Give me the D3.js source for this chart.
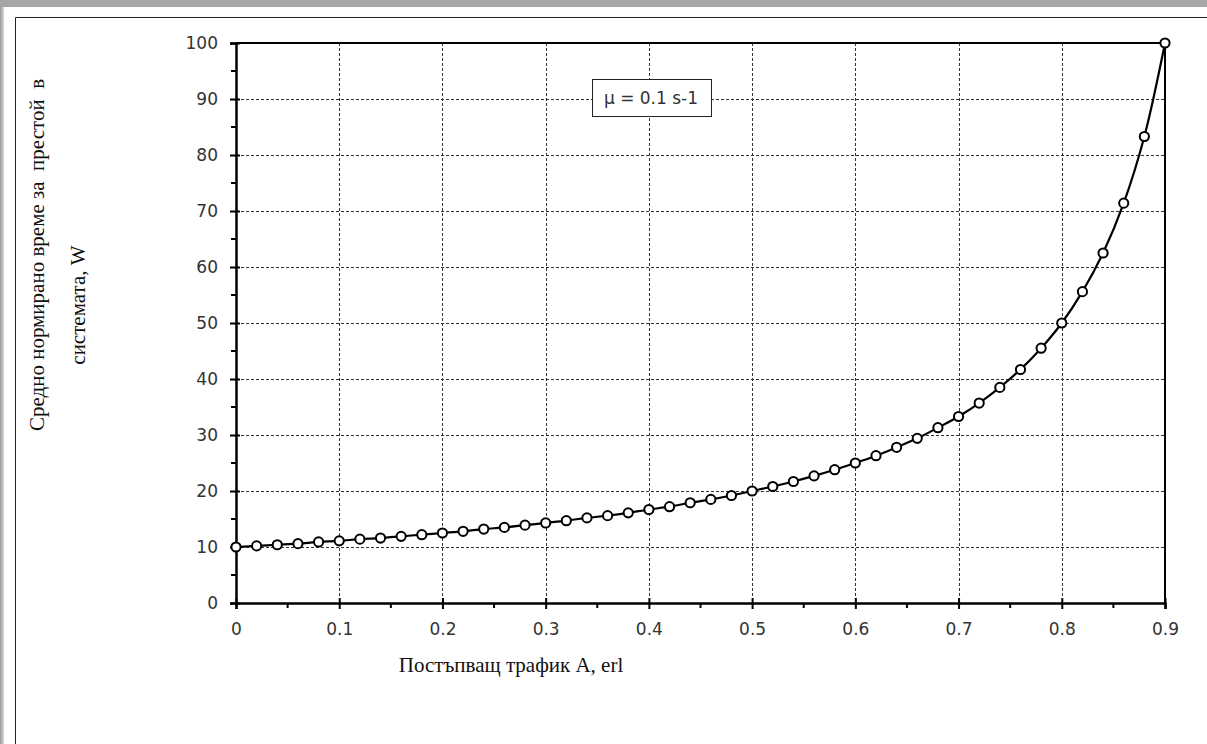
<!DOCTYPE html>
<html>
<head>
<meta charset="utf-8">
<script src="https://cdn.jsdelivr.net/npm/d3@7"></script>
<style>
  html, body { margin: 0; padding: 0; background: #a6a6a6; }
  #chart { width: 1207px; height: 744px; }
</style>
</head>
<body>
<div id="chart"></div>
<script>
// ------------------------------------------------------------
// DATA
// ------------------------------------------------------------
var trafficA = [0, 0.02, 0.04, 0.06, 0.08, 0.1, 0.12, 0.14, 0.16, 0.18,
                0.2, 0.22, 0.24, 0.26, 0.28, 0.3, 0.32, 0.34, 0.36, 0.38,
                0.4, 0.42, 0.44, 0.46, 0.48, 0.5, 0.52, 0.54, 0.56, 0.58,
                0.6, 0.62, 0.64, 0.66, 0.68, 0.7, 0.72, 0.74, 0.76, 0.78,
                0.8, 0.82, 0.84, 0.86, 0.88, 0.9];
var waitW = [10, 10.2, 10.4, 10.6, 10.9, 11.1, 11.4, 11.6, 11.9, 12.2,
             12.5, 12.8, 13.2, 13.5, 13.9, 14.3, 14.7, 15.2, 15.6, 16.1,
             16.7, 17.2, 17.9, 18.5, 19.2, 20, 20.8, 21.7, 22.7, 23.8,
             25, 26.3, 27.8, 29.4, 31.3, 33.3, 35.7, 38.5, 41.7, 45.5,
             50, 55.6, 62.5, 71.4, 83.3, 100];
var xTicks = [0, 0.1, 0.2, 0.3, 0.4, 0.5, 0.6, 0.7, 0.8, 0.9];
var xMinor = [0.05, 0.15, 0.25, 0.35, 0.45, 0.55, 0.65, 0.75, 0.85];
var yTicks = [0, 10, 20, 30, 40, 50, 60, 70, 80, 90, 100];
var yMinor = [5, 15, 25, 35, 45, 55, 65, 75, 85, 95];
var xTitle = "Постъпващ трафик A, erl";
var yTitle1 = "Средно нормирано време за  престой  в";
var yTitle2 = "системата, W";
var noteText = "\u03bc = 0.1 s-1";

// ------------------------------------------------------------
// DRAW
// ------------------------------------------------------------
var W = 1207, H = 744;
var svg = d3.select("#chart").append("svg")
    .attr("width", W).attr("height", H);

// Window frame
var defs = svg.append("defs");
var grad = defs.append("linearGradient").attr("id", "leftGrad")
    .attr("x1", 0).attr("x2", 1).attr("y1", 0).attr("y2", 0);
grad.append("stop").attr("offset", 0).attr("stop-color", "#9a9a9a");
grad.append("stop").attr("offset", 1).attr("stop-color", "#e6e6e6");

svg.append("rect").attr("x", 0).attr("y", 0).attr("width", W).attr("height", H).attr("fill", "#a6a6a6");
svg.append("rect").attr("x", 0).attr("y", 7).attr("width", 5).attr("height", H).attr("fill", "url(#leftGrad)");
svg.append("rect").attr("x", 4).attr("y", 7).attr("width", W).attr("height", H).attr("fill", "#ffffff");
svg.append("path").attr("d", "M15.5," + H + "V17.5H" + W)
    .attr("fill", "none").attr("stroke", "#222").attr("stroke-width", 1);

// Scales
var x = d3.scaleLinear().domain([0, 0.9]).range([236, 1165]);
var y = d3.scaleLinear().domain([0, 100]).range([603, 43]);

var tickFont = "'DejaVu Sans', sans-serif";
var serifFont = "'Liberation Serif', 'Times New Roman', serif";

// Grid lines
var grid = svg.append("g").attr("class", "grid");
grid.selectAll(".gx").data(xTicks.slice(1, -1)).enter().append("line")
    .attr("x1", function(d) { return Math.round(x(d)) + 0.5; })
    .attr("x2", function(d) { return Math.round(x(d)) + 0.5; })
    .attr("y1", y(100)).attr("y2", y(0))
    .attr("stroke", "#333").attr("stroke-width", 1).attr("stroke-dasharray", "3,2");
grid.selectAll(".gy").data(yTicks.slice(1, -1)).enter().append("line")
    .attr("x1", x(0)).attr("x2", x(0.9))
    .attr("y1", function(d) { return Math.round(y(d)) + 0.5; })
    .attr("y2", function(d) { return Math.round(y(d)) + 0.5; })
    .attr("stroke", "#333").attr("stroke-width", 1).attr("stroke-dasharray", "3,2");

// Plot frame (top + right)
svg.append("path")
    .attr("d", "M" + x(0) + "," + y(100) + "H" + x(0.9) + "V" + y(0))
    .attr("fill", "none").attr("stroke", "#000").attr("stroke-width", 2);

// X axis
var xAxis = svg.append("g").attr("transform", "translate(0," + y(0) + ")")
    .call(d3.axisBottom(x).tickValues(xTicks).tickSize(6).tickPadding(14)
        .tickFormat(d3.format("")));
xAxis.select(".domain").attr("stroke-width", 2.5);
xAxis.selectAll(".tick line").attr("y1", -5).attr("stroke-width", 2);
xAxis.selectAll(".tick text").attr("font-family", tickFont).attr("font-size", "17px").attr("fill", "#333");
svg.append("g").selectAll("line").data(xMinor).enter().append("line")
    .attr("x1", function(d) { return x(d); }).attr("x2", function(d) { return x(d); })
    .attr("y1", y(0)).attr("y2", y(0) + 5)
    .attr("stroke", "#000").attr("stroke-width", 2);

// Y axis
var yAxis = svg.append("g").attr("transform", "translate(" + x(0) + ",0)")
    .call(d3.axisLeft(y).tickValues(yTicks).tickSize(6).tickPadding(12));
yAxis.select(".domain").attr("stroke-width", 2.5);
yAxis.selectAll(".tick line").attr("x1", 4).attr("stroke-width", 2);
yAxis.selectAll(".tick text").attr("font-family", tickFont).attr("font-size", "17px").attr("fill", "#333");
svg.append("g").selectAll("line").data(yMinor).enter().append("line")
    .attr("x1", x(0) - 5).attr("x2", x(0))
    .attr("y1", function(d) { return y(d); }).attr("y2", function(d) { return y(d); })
    .attr("stroke", "#000").attr("stroke-width", 2);

// Annotation box
var note = svg.append("g");
note.append("rect").attr("x", 592.5).attr("y", 79.5).attr("width", 119).attr("height", 37)
    .attr("fill", "#fff").attr("stroke", "#222").attr("stroke-width", 1);
note.append("text").attr("x", 651).attr("y", 104).attr("text-anchor", "middle")
    .attr("font-family", tickFont).attr("font-size", "17px").attr("fill", "#333")
    .text(noteText);

// Series
var points = trafficA.map(function(a, i) { return { a: a, w: waitW[i] }; });
var line = d3.line()
    .x(function(d) { return x(d.a); })
    .y(function(d) { return y(d.w); })
    .curve(d3.curveCatmullRom.alpha(0.5));
svg.append("path").datum(points).attr("d", line)
    .attr("fill", "none").attr("stroke", "#000").attr("stroke-width", 2.2);
svg.selectAll(".marker").data(points).enter().append("circle")
    .attr("class", "marker")
    .attr("cx", function(d) { return x(d.a); })
    .attr("cy", function(d) { return y(d.w); })
    .attr("r", 4.6)
    .attr("fill", "#fff").attr("stroke", "#000").attr("stroke-width", 2);

// Axis titles
svg.append("text").attr("x", 511).attr("y", 672).attr("text-anchor", "middle")
    .attr("font-family", serifFont).attr("font-size", "21px").attr("fill", "#111")
    .text(xTitle);
svg.append("text").attr("transform", "translate(44,255) rotate(-90)").attr("text-anchor", "middle")
    .attr("font-family", serifFont).attr("font-size", "21px").attr("fill", "#111")
    .style("white-space", "pre")
    .text(yTitle1);
svg.append("text").attr("transform", "translate(85,305) rotate(-90)").attr("text-anchor", "middle")
    .attr("font-family", serifFont).attr("font-size", "21px").attr("fill", "#111")
    .text(yTitle2);
</script>
</body>
</html>
